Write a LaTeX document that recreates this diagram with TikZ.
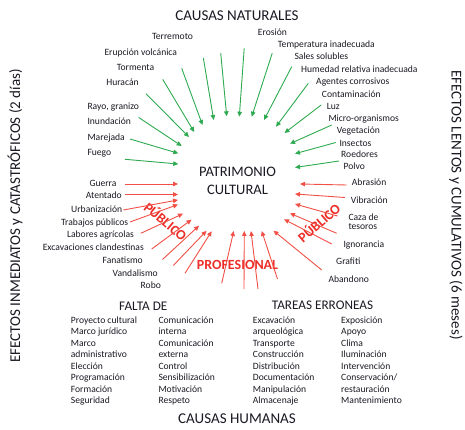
\documentclass[tikz,border=0pt]{standalone}
\usepackage{fontspec}
\setmainfont{Carlito}
\usetikzlibrary{arrows.meta}
\definecolor{garr}{RGB}{46,170,80}
\definecolor{rarr}{RGB}{240,80,70}
\definecolor{rtxt}{RGB}{236,45,40}
\definecolor{ink}{RGB}{25,25,35}
\tikzset{
  lbl/.style={font=\fontsize{9.6}{10}\selectfont, text=ink, inner sep=0pt},
  lblw/.style={lbl, anchor=base west},
  lblc/.style={lbl, anchor=base},
  big/.style={font=\fontsize{15}{18}\selectfont, text=ink, inner sep=0pt},
  sub/.style={font=\fontsize{13.2}{16}\selectfont, text=ink, inner sep=0pt, anchor=base},
  redlbl/.style={font=\fontsize{14}{16}\selectfont\bfseries, text=rtxt, inner sep=0pt},
  garrow/.style={draw=garr, line width=0.9pt, -{Triangle[length=5pt,width=4.5pt]}},
  rarrow/.style={draw=rarr, line width=0.9pt, -{Triangle[length=5pt,width=4.5pt]}}
}
\begin{document}
\begin{tikzpicture}[x=1pt,y=-1pt]
\useasboundingbox (0,0) rectangle (465,430);

% titles
\node[big, anchor=base] (tnat) at (237,20.5) {CAUSAS NATURALES};
\node[big, anchor=base] (thum) at (237,423.8) {CAUSAS HUMANAS};
\node[big, anchor=center, rotate=90] (tleft) at (15,216) {EFECTOS INMEDIATOS y CATASTRÓFICOS (2 días)};
\node[big, anchor=center, rotate=-90] (tright) at (456,205) {EFECTOS LENTOS y CUMULATIVOS (6 meses)};

% centre
\node[font=\fontsize{14.5}{18}\selectfont, text=ink, inner sep=0pt, anchor=base] (pat1) at (237.5,176.4) {PATRIMONIO};
\node[font=\fontsize{14.5}{18}\selectfont, text=ink, inner sep=0pt, anchor=base] (pat2) at (237.5,194.7) {CULTURAL};

% red category labels
\node[redlbl, rotate=-40] (publ) at (166,221) {PÚBLICO};
\node[redlbl, rotate=41] (pubr) at (318.5,222.5) {PÚBLICO};
\node[redlbl, anchor=base] (prof) at (237.5,269.5) {PROFESIONAL};

% natural causes, left
\node[lblc] (n1) at (172.5,39.4) {Terremoto};
\node[lblc] (n2) at (140.8,55.4) {Erupción volcánica};
\node[lblc] (n3) at (135.5,70.4) {Tormenta};
\node[lblc] (n4) at (122.5,85.4) {Huracán};
\node[lblw] (n5) at (87.3,109.4) {Rayo, granizo};
\node[lblw] (n6) at (87.3,125) {Inundación};
\node[lblw] (n7) at (87.3,140.4) {Marejada};
\node[lblw] (n8) at (87.3,156) {Fuego};

% natural causes, right
\node[lblw] (m1) at (257.7,36) {Erosión};
\node[lblw] (m2) at (277.7,47.7) {Temperatura inadecuada};
\node[lblw] (m3) at (294.3,60) {Sales solubles};
\node[lblw] (m4) at (301,72.7) {Humedad relativa inadecuada};
\node[lblw] (m5) at (316,84.4) {Agentes corrosivos};
\node[lblw] (m6) at (321.7,97.7) {Contaminación};
\node[lblw] (m7) at (326.7,109.4) {Luz};
\node[lblw] (m8) at (328.3,121.7) {Micro-organismos};
\node[lblw] (m9) at (336.7,133.7) {Vegetación};
\node[lblw] (m10) at (339.3,146.7) {Insectos};
\node[lblw] (m11) at (341,157.7) {Roedores};
\node[lblw] (m12) at (343.3,170) {Polvo};

% human causes, left (público)
\node[lblc] (h1) at (103,186.7) {Guerra};
\node[lblc] (h2) at (103.8,199) {Atentado};
\node[lblc] (h3) at (96.7,212) {Urbanización};
\node[lblc] (h4) at (94.7,225.4) {Trabajos públicos};
\node[lblc] (h5) at (100.5,237.7) {Labores agrícolas};
\node[lblc] (h6) at (93.3,250) {Excavaciones clandestinas};
\node[lblc] (h7) at (122.7,263.4) {Fanatismo};
\node[lblc] (h8) at (135.2,276) {Vandalismo};
\node[lblc] (h9) at (150.8,288.7) {Robo};

% human causes, right (público)
\node[lblw] (k1) at (351.7,185.4) {Abrasión};
\node[lblw] (k2) at (350.7,203.4) {Vibración};
\node[lblw] (k3) at (348.3,221) {Caza de};
\node[lblw] (k3b) at (348.3,229.4) {tesoros};
\node[lblw] (k4) at (343.3,247.7) {Ignorancia};
\node[lblw] (k5) at (336,264.4) {Grafiti};
\node[lblw] (k6) at (328.3,282.7) {Abandono};

% green arrows
\foreach \n/\a/\b/\c/\d in {
  1/125/159.3/178.3/164,
  2/130/139/178.3/153.3,
  3/138.7/117.5/181.7/146,
  4/146/93.7/189/137,
  5/162.7/79.3/194.2/132,
  6/181.7/68.3/202.5/125,
  7/203.3/57.8/213.7/120,
  8/220.7/53/226.7/116.3,
  9/244.2/48.3/239.3/116.7,
  10/272.2/53.3/251.7/116.7,
  11/291.7/66.7/264/120,
  12/308.3/83.3/276/126.7,
  13/321.2/105/284.5/133,
  14/331.7/125/290/143.7,
  15/335.8/142.5/295/153.7,
  16/339/161/295/167.5}{
  \coordinate (gs\n) at (\a,\b);
  \coordinate (ge\n) at (\c,\d);
  \draw[garrow] (gs\n) -- (ge\n);
}

% red arrows
\foreach \n/\a/\b/\c/\d in {
  1/125/184/178/184,
  2/125/194.5/178/194.5,
  3/123.3/210/178/200,
  4/130/222/178/204.5,
  5/140.8/233.3/183/213.7,
  6/151.7/249/191.5/219.7,
  7/162.5/259.5/199/225.7,
  8/173.3/265.5/206.5/230.8,
  9/185/273.3/211.7/231.2,
  10/221.7/283.3/233.7/231,
  11/244/289/244.3/231,
  12/258/289/251/231,
  13/277.5/279/261.7/231,
  14/321.7/270/273.5/230.7,
  15/331.7/244/284/219.3,
  16/336.7/233.3/290/213.3,
  17/337.5/216/295/204,
  18/345/197.5/295/194,
  19/346.7/185/300/184}{
  \coordinate (rs\n) at (\a,\b);
  \coordinate (re\n) at (\c,\d);
  \draw[rarrow] (rs\n) -- (re\n);
}

% bottom section
\node[sub] (falta) at (143.3,310.3) {FALTA DE};
\node[sub] (tareas) at (322.5,309.3) {TAREAS ERRONEAS};

\foreach \i/\t in {0/Proyecto cultural,1/Marco jurídico,2/Marco,3/administrativo,4/Elección,5/Programación,6/Formación,7/Seguridad}{
  \node[lblw] (fa\i) at (70.7,323.5+11.47*\i) {\t};
}
\foreach \i/\t in {0/Comunicación,1/interna,2/Comunicación,3/externa,4/Control,5/Sensibilización,6/Motivación,7/Respeto}{
  \node[lblw] (fb\i) at (158.3,323.5+11.47*\i) {\t};
}
\foreach \i/\t in {0/Excavación,1/arqueológica,2/Transporte,3/Construcción,4/Distribución,5/Documentación,6/Manipulación,7/Almacenaje}{
  \node[lblw] (ta\i) at (252.7,323.5+11.47*\i) {\t};
}
\foreach \i/\t in {0/Exposición,1/Apoyo,2/Clima,3/Iluminación,4/Intervención,5/{Conservación/},6/restauración,7/Mantenimiento}{
  \node[lblw] (tb\i) at (341,323.5+11.47*\i) {\t};
}
\end{tikzpicture}
\end{document}
